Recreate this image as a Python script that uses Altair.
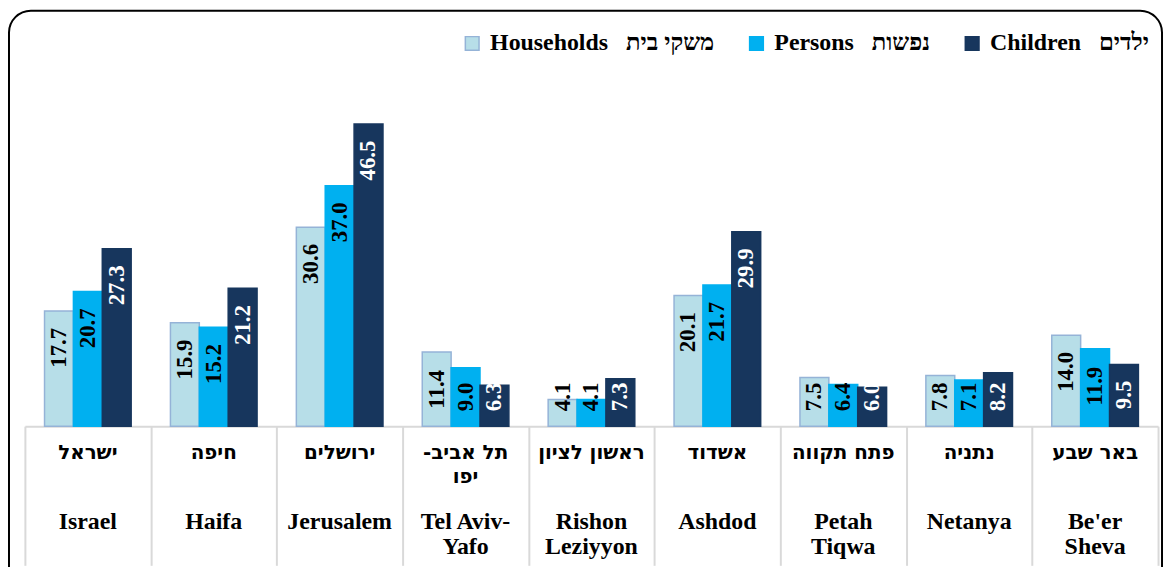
import altair as alt
import pandas as pd

# ---- data ----
cities_key = ["Israel", "Haifa", "Jerusalem", "Tel Aviv-Yafo", "Rishon Leziyyon",
              "Ashdod", "Petah Tiqwa", "Netanya", "Be'er Sheva"]
cities_en = ["Israel", "Haifa", "Jerusalem", "Tel Aviv-\nYafo", "Rishon\nLeziyyon",
             "Ashdod", "Petah\nTiqwa", "Netanya", "Be'er\nSheva"]
cities_he = ["ישראל", "חיפה", "ירושלים", "-תל אביב\nיפו", "ראשון לציון",
             "אשדוד", "פתח תקווה", "נתניה", "באר שבע"]
households = [17.7, 15.9, 30.6, 11.4, 4.1, 20.1, 7.5, 7.8, 14.0]
persons = [20.7, 15.2, 37.0, 9.0, 4.1, 21.7, 6.4, 7.1, 11.9]
children = [27.3, 21.2, 46.5, 6.3, 7.3, 29.9, 6.0, 8.2, 9.5]

NB = "\u00A0"
series_names = ["Households" + NB * 3 + "משקי בית",
                "Persons" + NB * 3 + "נפשות",
                "Children" + NB * 3 + "ילדים"]
fill_colors = ["#B7DEE8", "#00B0F0", "#17365D"]
stroke_colors = ["#95B3D7", "#00B0F0", "#17365D"]
text_colors = ["black", "black", "white"]

rows = []
for s, vals in enumerate([households, persons, children]):
    for i, v in enumerate(vals):
        rows.append({"city": cities_key[i], "series": series_names[s],
                     "value": v, "tcolor": text_colors[s]})
df = pd.DataFrame(rows)

labels_df = pd.DataFrame({"city": cities_key, "en": cities_en, "he": cities_he})

W, H = 1140, 327
YMAX = 50
PX = H / YMAX
FONT = "Liberation Serif"
MIXFONT = "'Liberation Serif', 'DejaVu Sans'"
HEFONT = "'DejaVu Sans'"

xscale = alt.Scale(domain=cities_key, paddingInner=0, paddingOuter=0)
xoff_scale = alt.Scale(domain=series_names, paddingInner=0, paddingOuter=0.68)
yscale = alt.Scale(domain=[0, YMAX], nice=False, zero=True)

x_enc = alt.X("city:N", scale=xscale, sort=cities_key,
              axis=alt.Axis(title=None, labels=False, ticks=True, tickBand="extent",
                            tickSize=140, tickColor="#D9D9D9", tickWidth=2,
                            domainColor="#D9D9D9", domainWidth=2, grid=False))

base = alt.Chart(df)

bars = base.mark_bar(strokeWidth=1.5, clip=False).encode(
    x=x_enc,
    xOffset=alt.XOffset("series:N", scale=xoff_scale, sort=series_names),
    y=alt.Y("value:Q", scale=yscale, axis=None),
    fill=alt.Fill("series:N", scale=alt.Scale(domain=series_names, range=fill_colors),
                  sort=series_names,
                  legend=alt.Legend(title=None, orient="none", direction="horizontal",
                                    legendX=438, legendY=-70, symbolType="square",
                                    symbolSize=190, symbolStrokeWidth=1.5,
                                    labelFont=MIXFONT, labelFontSize=24,
                                    labelFontWeight="bold", labelColor="black",
                                    labelOffset=6, columnPadding=30, labelLimit=400)),
    stroke=alt.Stroke("series:N", scale=alt.Scale(domain=series_names, range=stroke_colors),
                      sort=series_names, legend=None),
)

labels = base.transform_calculate(
    lab="format(datum.value, '.1f')",
    tlen="datum.value >= 10 ? 42 : 30",
).transform_calculate(
    ly=f"max(datum.value - (15 + datum.tlen) / {PX}, 15 / {PX})"
).mark_text(angle=270, align="left", baseline="middle", font=FONT,
            fontSize=23, fontWeight="bold", clip=False).encode(
    x=alt.X("city:N", scale=xscale, sort=cities_key),
    xOffset=alt.XOffset("series:N", scale=xoff_scale, sort=series_names),
    y=alt.Y("ly:Q", scale=yscale),
    text="lab:N",
    color=alt.Color("tcolor:N", scale=None),
)

he_text = alt.Chart(labels_df).mark_text(
    font=HEFONT, fontSize=20, fontWeight="bold", baseline="alphabetic",
    align="center", lineBreak="\n", lineHeight=24, color="black", clip=False
).encode(
    x=alt.X("city:N", scale=xscale, sort=cities_key),
    y=alt.value(H + 33),
    text="he:N",
)

en_text = alt.Chart(labels_df).mark_text(
    font=FONT, fontSize=24, fontWeight="bold", baseline="alphabetic",
    align="center", lineBreak="\n", lineHeight=26, color="black", clip=False
).encode(
    x=alt.X("city:N", scale=xscale, sort=cities_key),
    y=alt.value(H + 103),
    text="en:N",
)

border = alt.Chart(alt.Data(values=[{"a": 1}])).mark_rect(
    filled=False, stroke="black", strokeWidth=2, cornerRadius=22, clip=False
).encode(
    x=alt.value(-16), x2=alt.value(W + 4),
    y=alt.value(-91), y2=alt.value(H + 180),
)

chart = alt.layer(border, bars, labels, he_text, en_text).properties(
    width=W, height=H,
    autosize=alt.AutoSizeParams(type="none"),
    padding={"left": 17, "top": 92, "right": 6, "bottom": 140},
).configure(background="white", view=alt.ViewConfig(stroke=None))

chart.save("out.html", embed_options={"renderer": "svg", "actions": False})
